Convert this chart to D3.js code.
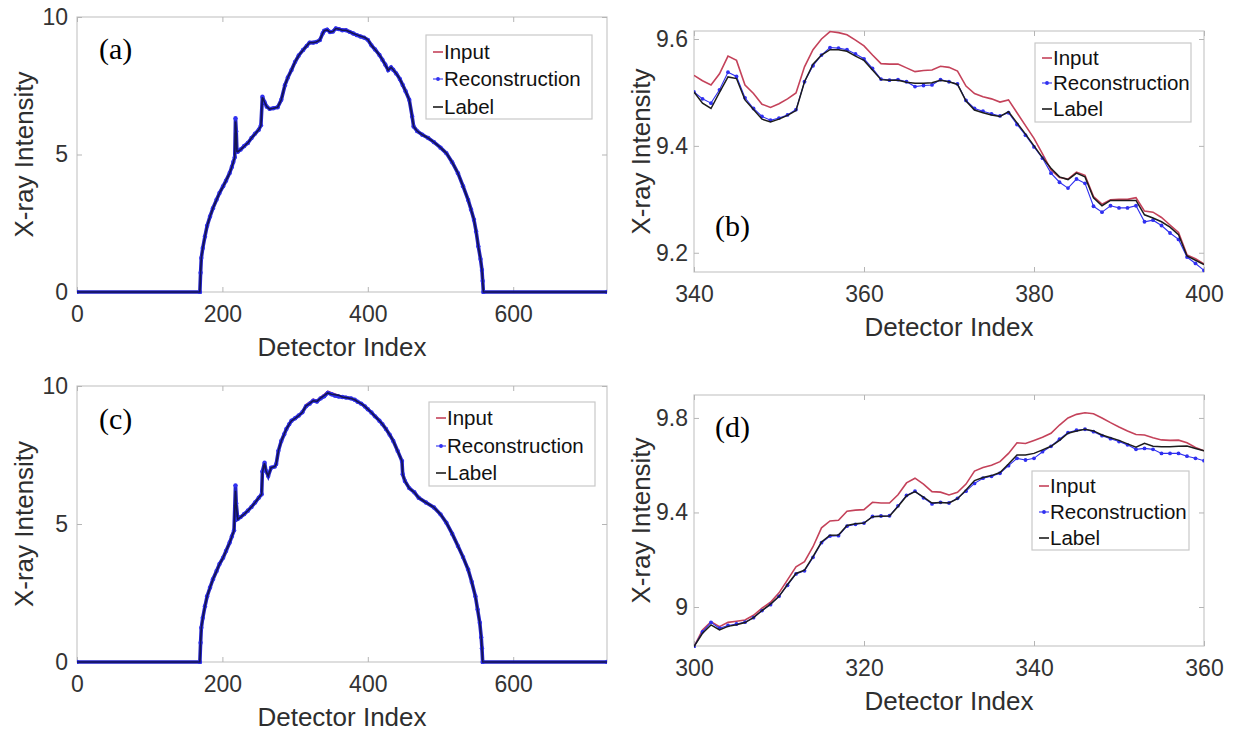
<!DOCTYPE html>
<html>
<head>
<meta charset="utf-8">
<script src="https://cdn.jsdelivr.net/npm/d3@7"></script>
<style>
  body { margin: 0; background: #fff; }
  text { font-family: "Liberation Sans", Arial, sans-serif; }
</style>
</head>
<body>
<div id="chart"></div>
<script>
// ---- (a) full profile ----
var aIdx = [0,169,170,171,173,176,179,183,187,192,
    196,201,205,210,213,215,217,218,219,220,
    221,225,230,235,240,245,250,253,255,258,
    261,265,270,276,281,286,290,295,300,305,
    311,316,320,325,329,334,338,340,344,348,
    352,356,360,365,370,375,380,385,390,395,
    400,405,410,416,420,424,428,432,435,439,
    444,448,452,457,461,463,468,475,483,491,
    500,508,516,524,531,538,542,546,549,552,
    555,557,558,559,729];
var aLabel = [0,0,0.69,1.23,1.6,2.02,2.4,2.75,3.05,3.35,
    3.6,3.84,4.05,4.32,4.55,4.72,4.9,6.2,5.8,5.11,
    5.1,5.18,5.3,5.42,5.6,5.75,5.9,6.05,7.08,6.9,
    6.74,6.65,6.68,6.72,6.99,7.53,7.8,8.07,8.37,8.6,
    8.8,8.95,9.07,9.07,9.09,9.16,9.41,9.5,9.53,9.45,
    9.47,9.58,9.56,9.52,9.52,9.46,9.4,9.35,9.3,9.26,
    9.18,8.97,8.82,8.62,8.45,8.27,8.07,8.17,8.08,7.95,
    7.75,7.53,7.3,6.99,6.38,6.02,5.85,5.72,5.6,5.45,
    5.25,5.05,4.72,4.32,3.85,3.35,3.0,2.63,2.2,1.66,
    1.2,0.8,0.4,0,0];
var aRecon = [0,0,0.7,1.24,1.6,2.02,2.41,2.75,3.05,3.36,
    3.6,3.85,4.05,4.33,4.55,4.73,4.9,6.32,5.85,5.12,
    5.1,5.18,5.31,5.42,5.6,5.76,5.9,6.06,7.1,6.9,
    6.74,6.66,6.68,6.72,6.99,7.52,7.8,8.07,8.37,8.6,
    8.8,8.95,9.07,9.07,9.09,9.16,9.41,9.5,9.54,9.455,
    9.47,9.58,9.56,9.52,9.52,9.46,9.4,9.34,9.29,9.25,
    9.17,8.97,8.82,8.62,8.45,8.27,8.07,8.17,8.08,7.95,
    7.75,7.53,7.3,6.99,6.38,6.02,5.85,5.72,5.6,5.45,
    5.25,5.05,4.72,4.32,3.85,3.35,3.0,2.63,2.2,1.66,
    1.2,0.8,0.4,0,0];
var aInput = [0,0,0.69,1.23,1.6,2.02,2.4,2.75,3.05,3.35,
    3.6,3.84,4.05,4.32,4.55,4.72,4.9,6.25,5.8,5.11,
    5.1,5.18,5.3,5.42,5.6,5.75,5.9,6.05,7.08,6.9,
    6.74,6.65,6.68,6.72,6.99,7.53,7.8,8.07,8.37,8.6,
    8.8,8.95,9.07,9.07,9.1,9.18,9.44,9.53,9.57,9.48,
    9.5,9.61,9.59,9.55,9.55,9.49,9.41,9.35,9.3,9.27,
    9.18,8.97,8.82,8.62,8.45,8.27,8.07,8.17,8.08,7.95,
    7.75,7.53,7.3,6.99,6.38,6.02,5.85,5.72,5.6,5.45,
    5.25,5.05,4.72,4.32,3.85,3.35,3.0,2.63,2.2,1.66,
    1.2,0.8,0.4,0,0];

// ---- (b) zoom 340-400 ----
var bIdx = d3.range(340, 401);
var bInput = [9.532,9.522,9.514,9.535,9.568,9.560,9.514,9.498,9.478,9.472,
    9.479,9.488,9.499,9.548,9.580,9.600,9.614,9.612,9.608,9.598,
    9.587,9.570,9.554,9.553,9.553,9.546,9.539,9.541,9.542,9.549,
    9.547,9.540,9.512,9.498,9.492,9.488,9.482,9.486,9.462,9.438,
    9.414,9.385,9.355,9.341,9.338,9.351,9.345,9.305,9.291,9.299,
    9.300,9.300,9.303,9.278,9.276,9.266,9.252,9.238,9.196,9.189,
    9.179];
var bRecon = [9.501,9.488,9.480,9.505,9.538,9.530,9.490,9.470,9.455,9.448,
    9.452,9.458,9.468,9.520,9.550,9.570,9.584,9.583,9.580,9.572,
    9.563,9.545,9.525,9.523,9.524,9.520,9.511,9.513,9.514,9.524,
    9.520,9.516,9.485,9.470,9.465,9.460,9.456,9.462,9.440,9.420,
    9.398,9.377,9.349,9.332,9.321,9.338,9.330,9.287,9.276,9.288,
    9.284,9.284,9.288,9.258,9.261,9.251,9.237,9.225,9.192,9.180,
    9.167];
var bLabel = [9.501,9.480,9.470,9.500,9.529,9.526,9.486,9.468,9.450,9.445,
    9.450,9.457,9.466,9.520,9.553,9.570,9.580,9.580,9.577,9.568,
    9.560,9.542,9.524,9.523,9.523,9.519,9.517,9.517,9.518,9.523,
    9.520,9.515,9.484,9.467,9.462,9.458,9.455,9.464,9.443,9.422,
    9.400,9.378,9.358,9.342,9.337,9.349,9.342,9.303,9.288,9.298,
    9.298,9.298,9.298,9.271,9.265,9.258,9.248,9.234,9.194,9.186,
    9.178];

// ---- (c) full profile ----
var cIdx = [0,169,170,171,173,176,179,183,187,192,
    196,201,205,210,213,216,218,219,221,225,
    230,235,240,245,250,254,255,258,260,263,
    267,272,274,277,281,285,288,292,295,300,
    305,310,315,320,325,330,335,340,345,350,
    355,360,365,370,377,382,386,391,396,400,
    405,410,416,420,425,430,435,441,447,448,
    451,457,464,470,480,491,500,508,516,524,
    531,538,543,548,551,554,556,557,558,729];
var cLabel = [0,0,0.69,1.23,1.6,2.02,2.38,2.7,3.0,3.29,
    3.55,3.78,4.02,4.32,4.55,4.76,6.2,5.7,5.17,5.25,
    5.36,5.48,5.62,5.78,5.95,6.08,6.86,7.2,6.92,6.74,
    7.04,7.08,7.17,7.65,8.01,8.25,8.44,8.62,8.74,8.83,
    8.93,9.05,9.28,9.36,9.47,9.44,9.56,9.65,9.75,9.7,
    9.68,9.66,9.6,9.58,9.55,9.5,9.43,9.36,9.26,9.16,
    9.04,8.9,8.74,8.62,8.44,8.24,8.01,7.65,7.28,6.8,
    6.56,6.3,6.15,5.95,5.78,5.6,5.35,5.05,4.65,4.2,
    3.8,3.35,2.9,2.38,1.9,1.42,0.9,0.5,0,0];
var cRecon = [0,0,0.7,1.24,1.6,2.02,2.38,2.7,3.0,3.3,
    3.55,3.78,4.02,4.33,4.55,4.77,6.4,5.75,5.18,5.25,
    5.36,5.48,5.62,5.78,5.95,6.08,6.9,7.22,6.92,6.74,
    7.04,7.08,7.17,7.65,8.01,8.25,8.44,8.62,8.74,8.83,
    8.93,9.05,9.27,9.36,9.47,9.44,9.55,9.63,9.75,9.7,
    9.65,9.62,9.6,9.58,9.55,9.5,9.43,9.36,9.26,9.16,
    9.04,8.9,8.74,8.62,8.44,8.24,8.01,7.65,7.28,6.8,
    6.56,6.3,6.15,5.95,5.78,5.6,5.35,5.05,4.65,4.2,
    3.8,3.35,2.9,2.38,1.9,1.42,0.9,0.5,0,0];
var cInput = [0,0,0.69,1.23,1.6,2.02,2.38,2.7,3.0,3.29,
    3.55,3.78,4.02,4.32,4.55,4.76,6.25,5.7,5.17,5.25,
    5.36,5.48,5.62,5.78,5.95,6.08,6.86,7.2,6.92,6.74,
    7.04,7.08,7.17,7.65,8.01,8.25,8.44,8.62,8.74,8.83,
    8.94,9.06,9.33,9.41,9.52,9.47,9.6,9.7,9.81,9.76,
    9.71,9.66,9.6,9.58,9.55,9.5,9.43,9.36,9.26,9.16,
    9.04,8.9,8.74,8.62,8.44,8.24,8.01,7.65,7.28,6.8,
    6.56,6.3,6.15,5.95,5.78,5.6,5.35,5.05,4.65,4.2,
    3.8,3.35,2.9,2.38,1.9,1.42,0.9,0.5,0,0];

// ---- (d) zoom 300-360 ----
var dIdx = d3.range(300, 361);
var dInput = [8.832,8.903,8.938,8.917,8.935,8.940,8.945,8.965,8.995,9.020,
    9.060,9.115,9.170,9.192,9.255,9.335,9.364,9.367,9.405,9.410,
    9.412,9.443,9.440,9.440,9.475,9.525,9.545,9.520,9.488,9.486,
    9.474,9.485,9.520,9.575,9.590,9.600,9.615,9.650,9.695,9.692,
    9.705,9.718,9.735,9.770,9.800,9.815,9.822,9.818,9.800,9.780,
    9.762,9.745,9.730,9.728,9.716,9.707,9.705,9.706,9.695,9.675,
    9.661];
var dRecon = [8.832,8.895,8.935,8.910,8.922,8.928,8.936,8.955,8.985,9.010,
    9.045,9.092,9.140,9.153,9.210,9.272,9.300,9.302,9.342,9.350,
    9.355,9.383,9.385,9.386,9.428,9.472,9.490,9.462,9.436,9.443,
    9.440,9.460,9.490,9.523,9.545,9.553,9.566,9.598,9.629,9.622,
    9.629,9.657,9.680,9.710,9.738,9.748,9.752,9.742,9.725,9.712,
    9.700,9.686,9.667,9.671,9.667,9.650,9.650,9.650,9.638,9.629,
    9.619];
var dLabel = [8.832,8.889,8.924,8.903,8.918,8.925,8.934,8.955,8.985,9.012,
    9.045,9.095,9.142,9.156,9.213,9.275,9.304,9.305,9.345,9.352,
    9.355,9.382,9.384,9.385,9.425,9.470,9.488,9.465,9.440,9.442,
    9.440,9.458,9.495,9.535,9.548,9.556,9.569,9.605,9.643,9.643,
    9.650,9.665,9.680,9.705,9.735,9.745,9.752,9.745,9.728,9.716,
    9.705,9.690,9.676,9.693,9.680,9.678,9.678,9.680,9.681,9.671,
    9.661];

// ticks
var fullXTicks = [0, 200, 400, 600];
var fullYTicks = [0, 5, 10];
var bXTicks = [340, 360, 380, 400];
var bYTicks = [9.2, 9.4, 9.6];
var dXTicks = [300, 320, 340, 360];
var dYTicks = [9, 9.4, 9.8];
var seriesNames = ["Input", "Reconstruction", "Label"];

var colInput = "#c4425a", colRecon = "#3030f0", colLabel = "#1c1c1c";

var svg = d3.select("#chart").append("svg")
    .attr("width", 1241)
    .attr("height", 733);

var panels = [
  { tag: "(a)", idx: aIdx, input: aInput, recon: aRecon, label: aLabel, full: true,
    box: [77, 17, 607, 292], xDom: [0, 729], yDom: [0, 10], xt: fullXTicks, yt: fullYTicks,
    yPad: 9, legend: [426, 35, 592, 119], ly: [52, 79, 107], tagAt: [99, 59] },
  { tag: "(b)", idx: bIdx, input: bInput, recon: bRecon, label: bLabel, full: false,
    box: [694, 31, 1204, 272], xDom: [340, 400], yDom: [9.164, 9.615], xt: bXTicks, yt: bYTicks,
    yPad: 6, legend: [1035, 43, 1191, 122], ly: [58, 83, 109], tagAt: [715, 236] },
  { tag: "(c)", idx: cIdx, input: cInput, recon: cRecon, label: cLabel, full: true,
    box: [77, 386, 607, 662], xDom: [0, 729], yDom: [0, 10], xt: fullXTicks, yt: fullYTicks,
    yPad: 9, legend: [429, 402, 595, 486], ly: [418, 446, 473], tagAt: [99, 429] },
  { tag: "(d)", idx: dIdx, input: dInput, recon: dRecon, label: dLabel, full: false,
    box: [694, 395, 1204, 646], xDom: [300, 360], yDom: [8.835, 9.897], xt: dXTicks, yt: dYTicks,
    yPad: 6, legend: [1032, 471, 1189, 550], ly: [486, 512, 538], tagAt: [715, 437] }
];

panels.forEach(function(p, k) {
    var x = d3.scaleLinear().domain(p.xDom).range([p.box[0], p.box[2]]);
    var y = d3.scaleLinear().domain(p.yDom).range([p.box[3], p.box[1]]);
    var g = svg.append("g");

    g.append("rect")
        .attr("x", p.box[0]).attr("y", p.box[1])
        .attr("width", p.box[2] - p.box[0]).attr("height", p.box[3] - p.box[1])
        .attr("fill", "#fff").attr("stroke", "#c9c9c9").attr("stroke-width", 1.2);

    // inward ticks on all four sides, labels on bottom/left only
    var fmt = function(d) { return String(d); };
    var axes = [
        [d3.axisBottom(x).tickValues(p.xt).tickFormat(fmt).tickPadding(14), "translate(0," + p.box[3] + ")"],
        [d3.axisTop(x).tickValues(p.xt).tickFormat(""), "translate(0," + p.box[1] + ")"],
        [d3.axisLeft(y).tickValues(p.yt).tickFormat(fmt).tickPadding(p.yPad), "translate(" + p.box[0] + ",0)"],
        [d3.axisRight(y).tickValues(p.yt).tickFormat(""), "translate(" + p.box[2] + ",0)"]
    ];
    axes.forEach(function(a) {
        var ax = g.append("g").attr("transform", a[1])
            .call(a[0].tickSizeInner(-5).tickSizeOuter(0));
        ax.select(".domain").remove();
        ax.selectAll(".tick line").attr("stroke", "#b5b5b5");
        ax.selectAll(".tick text")
            .attr("fill", "#333")
            .style("font-size", "23px")
            .style("font-family", "'Liberation Sans', Arial, sans-serif");
    });

    g.append("text")
        .attr("x", (p.box[0] + p.box[2]) / 2)
        .attr("y", p.box[3] + 55)
        .attr("dy", "0.35em")
        .attr("text-anchor", "middle")
        .attr("fill", "#2e2e2e")
        .style("font-size", "26px")
        .text("Detector Index");

    g.append("text")
        .attr("transform", "translate(" + (p.box[0] - 53) + "," + ((p.box[1] + p.box[3]) / 2) + ") rotate(-90)")
        .attr("dy", "0.35em")
        .attr("text-anchor", "middle")
        .attr("fill", "#2e2e2e")
        .style("font-size", "26px")
        .text("X-ray Intensity");

    var clipId = "clip" + k;
    svg.append("clipPath").attr("id", clipId).append("rect")
        .attr("x", p.box[0]).attr("y", p.box[1] - 2)
        .attr("width", p.box[2] - p.box[0]).attr("height", p.box[3] - p.box[1] + 4);

    var plot = g.append("g").attr("clip-path", "url(#" + clipId + ")");
    var line = d3.line()
        .x(function(d, i) { return x(p.idx[i]); })
        .y(function(d) { return y(d); });

    plot.append("path").datum(p.input)
        .attr("d", line).attr("fill", "none")
        .attr("stroke", colInput).attr("stroke-width", 1.6);

    // full profiles: dense markers make the curve look like a thick navy band
    plot.append("path").datum(p.recon)
        .attr("d", line).attr("fill", "none")
        .attr("stroke", p.full ? "#2323c8" : colRecon)
        .attr("stroke-width", p.full ? 3.6 : 1.1);

    plot.selectAll("circle.rc")
        .data(p.recon)
        .enter().append("circle")
        .attr("class", "rc")
        .attr("cx", function(d, i) { return x(p.idx[i]); })
        .attr("cy", function(d) { return y(d); })
        .attr("r", p.full ? 2.2 : 1.9)
        .attr("fill", colRecon);

    plot.append("path").datum(p.label)
        .attr("d", line).attr("fill", "none")
        .attr("stroke", p.full ? "#141450" : colLabel)
        .attr("stroke-width", p.full ? 1.6 : 1.5);

    // legend
    var L = p.legend;
    var leg = g.append("g");
    leg.append("rect")
        .attr("x", L[0]).attr("y", L[1])
        .attr("width", L[2] - L[0]).attr("height", L[3] - L[1])
        .attr("fill", "#fff").attr("stroke", "#c9c9c9").attr("stroke-width", 1.2);
    var cols = [colInput, colRecon, colLabel];
    seriesNames.forEach(function(name, i) {
        leg.append("line")
            .attr("x1", L[0] + 7).attr("x2", L[0] + 17)
            .attr("y1", p.ly[i]).attr("y2", p.ly[i])
            .attr("stroke", cols[i]).attr("stroke-width", i == 1 ? 1.1 : 1.6);
        if (i == 1) {
            leg.append("circle")
                .attr("cx", L[0] + 12).attr("cy", p.ly[i]).attr("r", 1.9)
                .attr("fill", colRecon);
        }
        leg.append("text")
            .attr("x", L[0] + 18).attr("y", p.ly[i])
            .attr("dy", "0.36em")
            .attr("fill", "#111")
            .style("font-size", "20.5px")
            .text(name);
    });

    g.append("text")
        .attr("x", p.tagAt[0]).attr("y", p.tagAt[1])
        .attr("fill", "#000")
        .style("font-family", "'Liberation Serif', 'Times New Roman', serif")
        .style("font-size", "30px")
        .text(p.tag);
});
</script>
</body>
</html>
